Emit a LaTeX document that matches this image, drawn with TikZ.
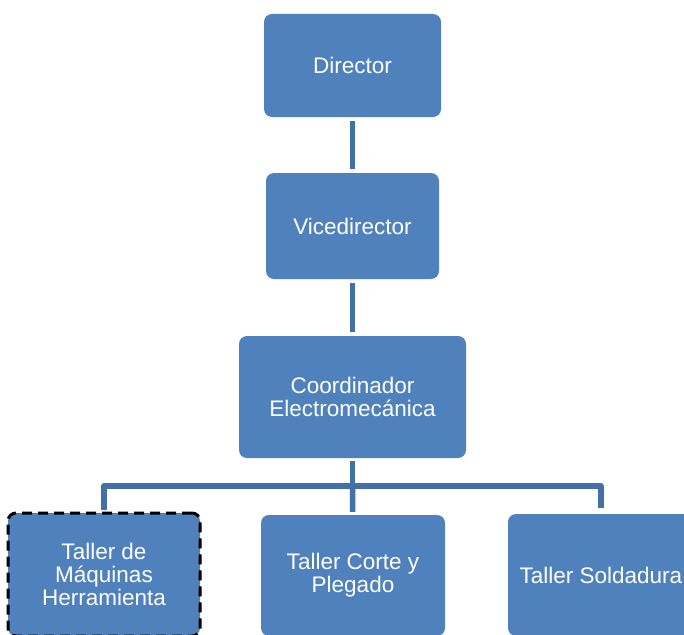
\documentclass[tikz,border=0pt]{standalone}
\usepackage{fontspec}
\setmainfont{Liberation Sans}
\definecolor{boxblue}{HTML}{4F81BD}
\definecolor{lineblue}{HTML}{4470A8}
\begin{document}
\begin{tikzpicture}[x=1pt,y=-1pt,
  orgbox/.style={rectangle, rounded corners=8pt, fill=boxblue, text=white,
    align=center, inner sep=0pt, font=\fontsize{22.5}{23}\selectfont},
  conn/.style={draw=lineblue, line width=5.5pt, line join=round},
  dashbox/.style={draw=black, line width=3pt, dash pattern=on 10pt off 6pt}]
\useasboundingbox (0,0) rectangle (684,634);
\node[orgbox, minimum width=177pt, minimum height=103pt] (dir) at (352.5,65.5) {Director};
\node[orgbox, minimum width=173pt, minimum height=106pt] (vice) at (352.5,226) {Vicedirector};
\node[orgbox, minimum width=227pt, minimum height=122pt] (coord) at (352.5,397) {Coordinador\\Electromecánica};
\node[orgbox, dashbox, minimum width=192pt, minimum height=123pt] (maq) at (104,574.5) {Taller de\\Máquinas\\Herramienta};
\node[orgbox, minimum width=184pt, minimum height=121pt] (corte) at (353,575.5) {Taller Corte y\\Plegado};
\node[orgbox, minimum width=186pt, minimum height=122pt] (sold) at (601,575) {Taller Soldadura};
\coordinate (bar) at (352.5,486);
\draw[conn, shorten <=4pt, shorten >=4pt] (dir) -- (vice);
\draw[conn, shorten <=4pt, shorten >=4pt] (vice) -- (coord);
\draw[conn, shorten <=3pt] (coord) -- (bar);
\draw[conn] ([yshift=2pt]maq.north) -- (maq.north |- bar) -- (sold.north |- bar) -- ([yshift=6pt]sold.north);
\draw[conn, shorten >=3pt] (bar) -- (corte);
\end{tikzpicture}
\end{document}
